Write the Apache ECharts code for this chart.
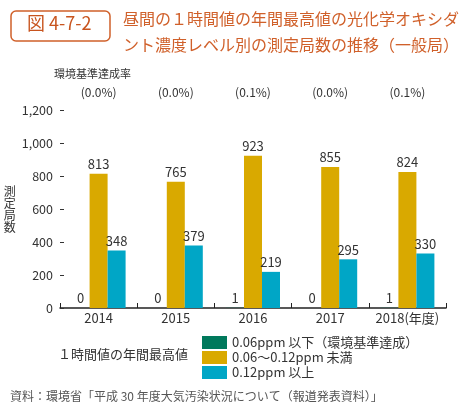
<!DOCTYPE html>
<html><head><meta charset="utf-8">
<script src="https://cdn.jsdelivr.net/npm/echarts@6/dist/echarts.min.js"></script>
<style>html,body{margin:0;padding:0;background:#fff}#c{width:465px;height:413px}</style>
</head><body><div id="c"></div>
<script>
var years = ['2014','2015','2016','2017','2018'];
var yearLabels = ['2014','2015','2016','2017','2018(年度)'];
var rates = ['(0.0%)','(0.0%)','(0.1%)','(0.0%)','(0.1%)'];
var below006 = [0,0,1,0,1];
var mid006to012 = [813,765,923,855,824];
var above012 = [348,379,219,295,330];
var seriesNames = ['0.06ppm 以下（環境基準達成）','0.06～0.12ppm 未満','0.12ppm 以上'];
var yName = '測定局数';
var colors = ['#00795c','#d9a900','#00a6c6'];
var FONT = '"Noto Sans CJK JP", sans-serif';
var chart = echarts.init(document.getElementById('c'));
var lbl = {show:true, position:'top', fontSize:13, color:'#333', fontFamily:FONT, distance:3};
chart.setOption({
  animation:false,
  textStyle:{fontFamily:FONT},
  grid:{left:60, right:19, top:110, bottom:105},
  legend:{orient:'vertical', left:197, top:331, itemWidth:25, itemHeight:13, itemGap:2,
    icon:'rect', textStyle:{fontSize:13, color:'#333', fontFamily:FONT}, data:seriesNames},
  xAxis:[{type:'category', data:yearLabels, position:'bottom',
    axisLine:{lineStyle:{color:'#222', width:1.5}},
    axisTick:{show:true, inside:true, length:5, lineStyle:{color:'#222'}},
    axisLabel:{fontSize:13, color:'#333', margin:4, interval:0, fontFamily:FONT}},
    {type:'category', data:rates, position:'top',
    axisLine:{show:false}, axisTick:{show:false},
    axisLabel:{fontSize:12, color:'#333', margin:12, interval:0, fontFamily:FONT}}],
  yAxis:{type:'value', min:0, max:1200, interval:200,
    name:yName.split('').join('\n'), nameLocation:'middle', nameRotate:0, nameGap:44,
    nameTextStyle:{fontSize:12, lineHeight:12, color:'#333', fontFamily:FONT, padding:[0,0,8,0]},
    axisLine:{show:false}, splitLine:{show:false},
    axisTick:{show:true, inside:true, length:4, lineStyle:{color:'#333'}},
    axisLabel:{fontSize:12.5, color:'#333', margin:7, fontFamily:FONT,
      formatter:function(v){return v.toLocaleString('en-US');}}},
  series:[
    {name:seriesNames[0], type:'bar', data:below006, barWidth:18, barGap:'0%', itemStyle:{color:colors[0]}, label:lbl},
    {name:seriesNames[1], type:'bar', data:mid006to012, barWidth:18, barGap:'0%', itemStyle:{color:colors[1]}, label:lbl},
    {name:seriesNames[2], type:'bar', data:above012, barWidth:18, barGap:'0%', itemStyle:{color:colors[2]}, label:lbl}
  ],
  graphic:[
    {type:'rect', shape:{x:11, y:11, width:99, height:30, r:5}, style:{fill:'#fff', stroke:'#d0602a', lineWidth:1.5}},
    {type:'text', left:27, top:14, style:{text:'図 4-7-2', fontSize:18, fill:'#c8541e', fontFamily:FONT}},
    {type:'text', left:123, top:11, style:{text:'昼間の１時間値の年間最高値の光化学オキシダ', fontSize:16, fill:'#d0602a', fontFamily:FONT}},
    {type:'text', left:123, top:37, style:{text:'ント濃度レベル別の測定局数の推移（一般局）', fontSize:16, fill:'#d0602a', fontFamily:FONT}},
    {type:'text', left:54, top:68, style:{text:'環境基準達成率', fontSize:11, fill:'#333', fontFamily:FONT}},
    {type:'text', left:58, top:348, style:{text:'１時間値の年間最高値', fontSize:13, fill:'#333', fontFamily:FONT}},
    {type:'text', left:10, top:390, style:{text:'資料：環境省「平成 30 年度大気汚染状況について（報道発表資料）」', fontSize:12, fill:'#555', fontFamily:FONT}}
  ]
});
</script></body></html>
